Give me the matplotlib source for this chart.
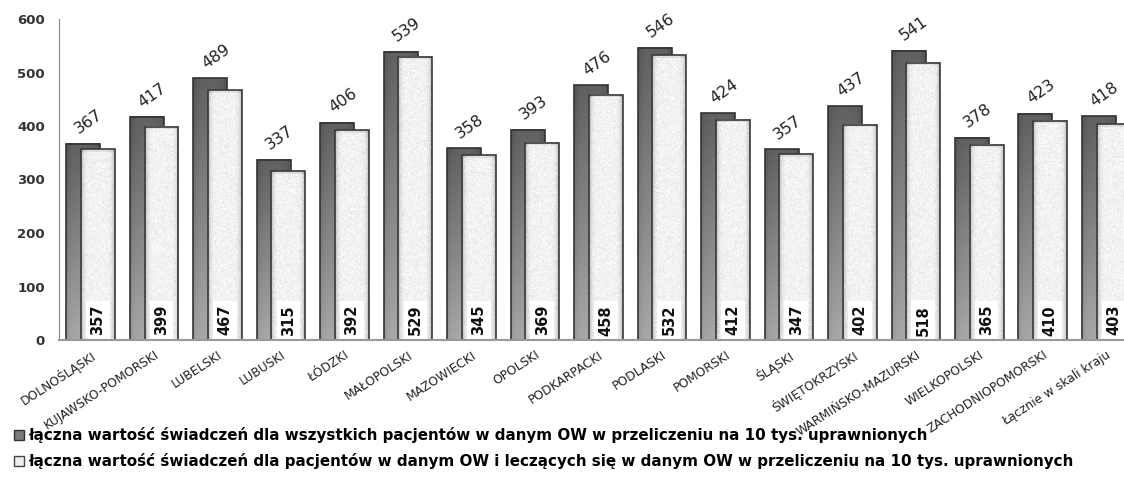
import numpy as np
import matplotlib.pyplot as plt
from matplotlib.patches import Rectangle
from matplotlib.lines import Line2D

regions = ['DOLNOŚLĄSKI', 'KUJAWSKO-POMORSKI', 'LUBELSKI', 'LUBUSKI', 'ŁÓDZKI',
           'MAŁOPOLSKI', 'MAZOWIECKI', 'OPOLSKI', 'PODKARPACKI', 'PODLASKI',
           'POMORSKI', 'ŚLĄSKI', 'ŚWIĘTOKRZYSKI', 'WARMIŃSKO-MAZURSKI',
           'WIELKOPOLSKI', 'ZACHODNIOPOMORSKI', 'Łącznie w skali kraju']
all_patients = [367, 417, 489, 337, 406, 539, 358, 393, 476, 546, 424, 357, 437, 541, 378, 423, 418]
local_patients = [357, 399, 467, 315, 392, 529, 345, 369, 458, 532, 412, 347, 402, 518, 365, 410, 403]

label_all = 'łączna wartość świadczeń dla wszystkich pacjentów w danym OW w przeliczeniu na 10 tys. uprawnionych'
label_local = 'łączna wartość świadczeń dla pacjentów w danym OW i leczących się w danym OW w przeliczeniu na 10 tys. uprawnionych'

plt.rcParams['font.family'] = ['DejaVu Sans']

fig = plt.figure(figsize=(11.24, 4.84), dpi=100)
ax = fig.add_axes([59 / 1124, 1 - 340 / 484, 1 - 59 / 1124, (340 - 19) / 484])

x = np.arange(len(regions))
w = 0.535
off = 0.115
rng = np.random.default_rng(7)

dark = ax.bar(x - off, all_patients, w, color='none', edgecolor='#333333', linewidth=1.2, zorder=3)
light = ax.bar(x + off, local_patients, w, color='none', edgecolor='#3a3a3a', linewidth=1.2, zorder=6)

# gradient fill for the dark bars, speckled fill for the light ones
cols = 40
edge = np.abs(np.linspace(-1, 1, cols))
for b in dark:
    x0, h = b.get_x(), b.get_height()
    vert = np.linspace(0.38, 0.66, 100)[:, None]
    img = vert - 0.06 * edge[None, :] ** 4
    ax.imshow(img, extent=[x0, x0 + w, 0, h], aspect='auto', cmap='gray', vmin=0, vmax=1,
              interpolation='bilinear', zorder=2)
for b in light:
    x0, h = b.get_x(), b.get_height()
    rows = int(h * 0.54)
    img = 0.95 + rng.normal(0, 0.03, (rows, cols)) - 0.25 * edge[None, :] ** 8
    img[:3, :] -= 0.08
    ax.add_patch(Rectangle((x0, 0), w, h, fc='white', ec='none', zorder=4))
    ax.imshow(img, extent=[x0, x0 + w, 0, h], aspect='auto', cmap='gray', vmin=0, vmax=1,
              interpolation='bilinear', zorder=5)

for xi, v in zip(x, all_patients):
    ax.annotate(str(v), (xi - off, v), xytext=(4, 5), textcoords='offset points',
                ha='center', va='bottom', rotation=35, fontsize=11.5, color='#222222', zorder=8)
for xi, v in zip(x, local_patients):
    ax.text(xi + off, 37, str(v), rotation=90, ha='center', va='center', fontsize=10.5,
            fontweight='bold', color='#111111', zorder=8,
            bbox=dict(boxstyle='square,pad=0.3', fc='white', ec='none'))

ax.set_xlim(-0.5, 16.28)
ax.set_ylim(0, 600)
ax.set_yticks(range(0, 601, 100))
ax.tick_params(axis='y', length=0, labelsize=9.5, pad=10, labelcolor='#333333')
for t in ax.get_yticklabels():
    t.set_fontweight('bold')
ax.set_xticks(x)
ax.set_xticklabels(regions, rotation=33, ha='right', rotation_mode='anchor', fontsize=8.8, color='#222222')
ax.tick_params(axis='x', length=0, pad=6)
for s in ['top', 'right']:
    ax.spines[s].set_visible(False)
ax.spines['left'].set_color('#888888')
ax.spines['bottom'].set_color('#999999')
ax.spines['bottom'].set_linewidth(1.5)
ax.spines['left'].set_zorder(9)
ax.spines['bottom'].set_zorder(9)

handles = [
    Line2D([], [], marker='s', ls='none', markersize=7, markerfacecolor='#7a7a7a', markeredgecolor='#333333'),
    Line2D([], [], marker='s', ls='none', markersize=7, markerfacecolor='#eeeeee', markeredgecolor='#444444'),
]
fig.legend(handles, [label_all, label_local], loc='upper left', bbox_to_anchor=(0.006, 0.13),
           frameon=False, handlelength=0.8, handletextpad=0.2, labelspacing=0.68,
           prop={'size': 10.9, 'weight': 'bold'}, borderaxespad=0)

fig.savefig('out.png', dpi=100)
